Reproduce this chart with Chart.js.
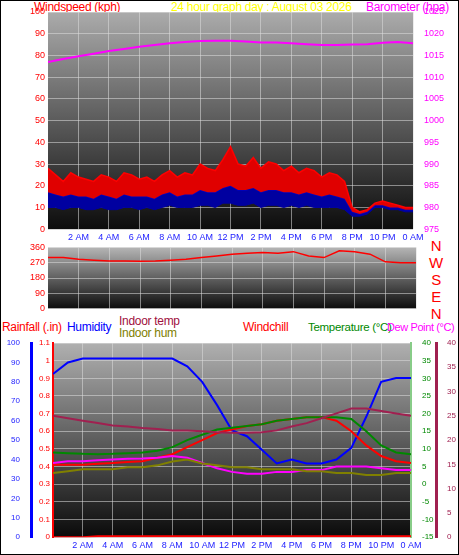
<!DOCTYPE html><html><head><meta charset="utf-8">
<script src="https://cdn.jsdelivr.net/npm/chart.js@4"></script>
<style>
body{margin:0;background:#fff;font-family:"Liberation Sans",Arial,sans-serif;}
#wrap{position:relative;width:457px;height:553px;border:1px solid #000;overflow:hidden}
canvas{position:absolute}
.t{position:absolute;font-size:12px;white-space:nowrap;line-height:12px;letter-spacing:-0.3px}
</style></head><body><div id="wrap">
<div class="t" style="left:33px;top:0;color:#f00">Windspeed (kph)</div>
<div class="t" style="left:170px;top:0;color:#ff0">24 hour graph day : August 03 2026</div>
<div class="t" style="left:365px;top:0;color:#f0f">Barometer (hpa)</div>
<div class="t" style="left:428px;top:236px;color:#f00;font-size:15px;line-height:17px;text-align:center;width:14px">N<br>W<br>S<br>E<br>N</div>
<div class="t" style="left:1px;top:320px;color:#f00">Rainfall (.in)</div>
<div class="t" style="left:66px;top:320px;color:#00f">Humidity</div>
<div class="t" style="left:118px;top:314px;color:#a01040">Indoor temp</div>
<div class="t" style="left:118px;top:326px;color:#808000">Indoor hum</div>
<div class="t" style="left:242px;top:320px;color:#f00">Windchill</div>
<div class="t" style="left:307px;top:320px;color:#080;font-size:11.5px">Temperature (°C)</div>
<div class="t" style="left:386px;top:320px;color:#f0f;font-size:11px;letter-spacing:-0.4px">Dew Point (°C)</div>
<canvas id="c1" style="left:0;top:0"></canvas>
<canvas id="c2" style="left:0;top:238px"></canvas>
<canvas id="c3" style="left:0;top:332px"></canvas>
</div>
<script>
const hourTicks=[2,4,6,8,10,12,14,16,18,20,22,24];
const hourLabels=["2 AM","4 AM","6 AM","8 AM","10 AM","12 PM","2 PM","4 PM","6 PM","8 PM","10 PM","0 AM"];
const windGust=[28,25,22,26,24,23,22,25,24,22,26,25,23,24,22,25,27,24,26,25,30,28,27,32,38,30,29,33,28,31,30,27,29,26,28,27,24,26,25,22,10,8,9,12,13,12,11,10,10];
const windAvg=[17,16,15,16,15,15,14,16,15,14,16,15,15,15,14,16,17,15,16,16,18,17,17,19,20,18,18,19,17,18,18,17,17,16,17,16,15,16,15,14,8,7,8,11,11,10,10,9,9];
const windLull=[10,10,9,10,10,9,9,10,9,9,10,10,9,10,9,10,11,10,10,10,11,11,10,12,12,11,11,12,10,11,11,10,11,10,11,10,10,10,10,9,6,6,7,10,10,9,9,8,8];
const barometer=[1013.5,1014.2,1014.8,1015.4,1016,1016.5,1017,1017.4,1017.8,1018.1,1018.3,1018.4,1018.4,1018.2,1018,1018,1017.8,1017.6,1017.4,1017.4,1017.5,1017.6,1017.9,1018.1,1017.8];
const windDir=[300,300,290,285,280,280,278,280,285,290,300,310,320,325,330,325,335,310,300,340,335,320,275,270,270];
const humidity=[84,90,92,92,92,92,92,92,92,88,80,68,55,52,45,38,40,38,38,40,46,62,80,82,82];
const rainfall=[0,0,0,0.005,0.005,0.005,0.005,0.005,0.005,0.005,0.005,0.005,0.005,0.005,0.005,0.005,0.005,0.005,0.005,0.005,0.005,0.005,0.005,0.005,0.005];
const indoorTemp=[25,24.5,24,23.5,23,22.8,22.5,22.3,22,22,21.8,21.6,21.5,21.5,21.6,22,22.8,23.5,24.5,25.5,26.5,26.5,26,25.5,25];
const indoorHum=[33,34,35,35,35,36,36,37,39,40,38,37,36,36,35,35,35,34,34,33,33,32,32,33,33];
const temperature=[9,8.8,8.6,8.5,8.6,8.8,9,9.5,10.5,12.5,14,15.5,16,16.5,17,18,18.5,19,19,19,18.5,15,11,9,8.5];
const windchill=[5.5,5.5,5.5,5.8,6,6.3,6.5,7.5,8.5,10.5,12.5,14.5,15.5,16.5,17,18,18.5,19,19,18,15,11,8,6.5,6];
const dewPoint=[6,6.5,6.5,6.8,7,7.2,7.3,7.5,8,7.5,6,4.5,3.5,3,3,3.5,3.5,4,4,5,5,5,4.5,4,4];

const xy=(a,step)=>a.map((v,i)=>({x:i*step,y:v}));
const grid={color:'rgba(220,220,220,0.55)',borderDash:[1,2],drawTicks:false};
function bg(top,bot){return{id:'bg',beforeDraw(c){const a=c.chartArea,x=c.ctx;const g=x.createLinearGradient(0,a.top,0,a.bottom);g.addColorStop(0,top);g.addColorStop(1,bot);x.fillStyle=g;x.fillRect(a.left,a.top,a.right-a.left,a.bottom-a.top);}}}
function fixW(w){return function(s){s.width=w;}}
const plain=v=>String(+(+v).toFixed(1));
const xScale=(show)=>({type:'linear',min:0,max:24,afterBuildTicks(s){s.ticks=hourTicks.map(v=>({value:v}));},
 ticks:{display:show,color:'#22f',font:{size:9},padding:3,maxRotation:0,minRotation:0,autoSkip:false,callback:(v)=>hourLabels[hourTicks.indexOf(v)]},grid:grid,border:{display:false}});
const line=(data,col,w)=>({data,borderColor:col,borderWidth:w||2,pointRadius:0,tension:0});
Chart.defaults.animation=false;Chart.defaults.responsive=false;
const common={plugins:{legend:{display:false},tooltip:{enabled:false}}};

const c1=document.getElementById('c1');c1.width=459;c1.height=245;
new Chart(c1,{type:'line',data:{datasets:[
 {...line(xy(windGust,0.5),'#f00',1.5),fill:'+1',backgroundColor:'#e00000',yAxisID:'y'},
 {...line(xy(windAvg,0.5),'#0000c0',1.5),fill:'+1',backgroundColor:'#0000a0',yAxisID:'y'},
 {...line(xy(windLull,0.5),'#0000a0',1),yAxisID:'y'},
 {...line(xy(barometer,1),'#f0f',2),yAxisID:'y1'}]},
 options:{...common,layout:{padding:{top:11,bottom:0}},scales:{x:xScale(true),
 y:{min:0,max:100,afterFit:fixW(47),ticks:{stepSize:10,color:'#f00',font:{size:9},callback:plain},grid:grid,border:{display:false}},
 y1:{position:'right',min:975,max:1025,afterFit:fixW(47),ticks:{stepSize:5,color:'#f0f',font:{size:9},callback:plain},grid:{display:false},border:{display:false}}}},
 plugins:[bg('#ababab','#0c0c0c')]});

const c2=document.getElementById('c2');c2.width=459;c2.height=78;
new Chart(c2,{type:'line',data:{datasets:[line(xy(windDir,1),'#f00',1.5)]},
 options:{...common,layout:{padding:{top:6,bottom:4,right:44}},scales:{x:xScale(false),
 y:{min:0,max:360,afterFit:fixW(47),ticks:{stepSize:90,color:'#f00',font:{size:9}},grid:grid,border:{display:false}}}},
 plugins:[bg('#b5b5b5','#0c0c0c')]});

const c3=document.getElementById('c3');c3.width=459;c3.height=221;
new Chart(c3,{type:'line',data:{datasets:[
 {...line(xy(indoorTemp,1),'#a02050',2),yAxisID:'yi'},
 {...line(xy(indoorHum,1),'#808000',2),yAxisID:'yh'},
 {...line(xy(dewPoint,1),'#f0f',2),yAxisID:'yt'},
 {...line(xy(temperature,1),'#080',2),yAxisID:'yt'},
 {...line(xy(windchill,1),'#f00',2),yAxisID:'yt'},
 {...line(xy(humidity,1),'#00f',2),yAxisID:'yh'},
 {...line(xy(rainfall,1),'#f00',2),yAxisID:'yr'}]},
 options:{...common,layout:{padding:{top:10,bottom:0}},scales:{x:xScale(true),
 yr:{position:'left',min:0,max:1.1,afterFit:fixW(22),ticks:{stepSize:0.1,color:'#f00',font:{size:8},callback:plain},grid:grid,border:{color:'#f00',width:2}},
 yh:{position:'left',min:0,max:100,afterFit:fixW(30),ticks:{stepSize:10,color:'#22f',font:{size:8}},grid:{display:false},border:{color:'#00f',width:3}},
 yt:{position:'right',min:-15,max:40,afterFit:fixW(25),ticks:{stepSize:5,color:'#080',font:{size:8}},grid:{display:false},border:{color:'#8c8',width:2}},
 yi:{position:'right',min:0,max:40,afterFit:fixW(24),ticks:{stepSize:5,color:'#a02050',font:{size:8}},grid:{display:false},border:{color:'#a02050',width:3}}}},
 plugins:[bg('#b0b0b0','#0a0a0a')]});
</script></body></html>
